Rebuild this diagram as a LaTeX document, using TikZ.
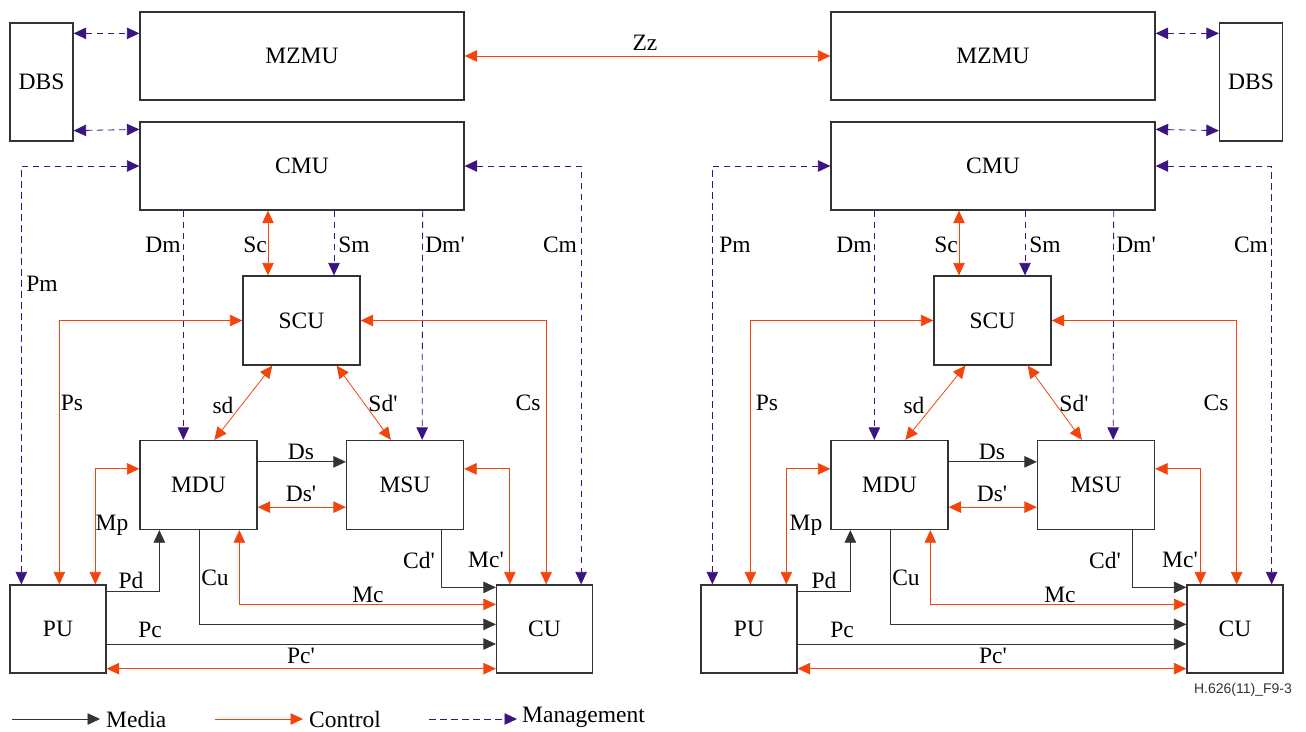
\documentclass[tikz,border=0pt]{standalone}
\usepackage{fontspec}
\setmainfont{Liberation Serif}[Ligatures=TeXOff]
\newfontfamily\figserif{Liberation Serif}[Ligatures=TeXOff]
\newfontfamily\figsans{Liberation Sans}
\usepackage{tikz}
\usetikzlibrary{arrows.meta, calc}
\definecolor{ctrlOrange}{HTML}{F2450D}
\definecolor{mgmtPurple}{HTML}{3B1482}

\begin{document}
\begin{tikzpicture}[x=1pt, y=-1pt, font=\figserif\fontsize{23.5}{26}\selectfont,
  >={Triangle[length=12.5pt,width=11.5pt]},
  unit/.style={draw=black!80, line width=1.3pt, inner sep=0pt, minimum width=117pt, minimum height=89pt},
  wide/.style={unit, minimum width=324pt, minimum height=88pt},
  term/.style={unit, minimum width=96pt, minimum height=88pt},
  dbs/.style={unit, minimum width=63pt, minimum height=118pt},
  media/.style={draw=black!80, line width=0.8pt},
  ctrl/.style={draw=ctrlOrange, line width=0.8pt},
  mgmt/.style={draw=mgmtPurple, line width=0.8pt, dash pattern=on 6.5pt off 4.5pt},
  lbl/.style={inner sep=1pt},
]
  \useasboundingbox (0,0) rectangle (1306,731);

  % left zone
  \node[dbs]  (dbsL)  at (41.5,82)    {DBS};
  \node[wide] (mzmuL) at (302,56)     {MZMU};
  \node[wide] (cmuL)  at (302,166)    {CMU};
  \node[unit] (scuL)  at (301.5,320.5) {SCU};
  \node[unit] (mduL)  at (198.5,485)  {MDU};
  \node[unit] (msuL)  at (405,485)    {MSU};
  \node[term] (puL)   at (58,629)     {PU};
  \node[term] (cuL)   at (544.5,629)  {CU};

  % right zone
  \node[dbs]  (dbsR)  at (1251,82)    {DBS};
  \node[wide] (mzmuR) at (993,56)     {MZMU};
  \node[wide] (cmuR)  at (993,166)    {CMU};
  \node[unit] (scuR)  at (992.5,320.5) {SCU};
  \node[unit] (mduR)  at (889.5,485)  {MDU};
  \node[unit] (msuR)  at (1096,485)   {MSU};
  \node[term] (puR)   at (749,629)    {PU};
  \node[term] (cuR)   at (1235,629)   {CU};

  % between zones
  \draw[ctrl,<->] (mzmuL.east) -- (mzmuR.west);
  \node[lbl] (lZz) at (645,43) {Zz};

  % left zone connectors
  \draw[mgmt,<->] ([yshift=-11pt]dbsL.north east) -- ([yshift=-22pt]mzmuL.north west);
  \draw[mgmt,<->] ([yshift=11pt]dbsL.south east) -- ([yshift=-8pt]cmuL.north west);
  \draw[mgmt,<->] (cmuL.west) -| ([xshift=12pt]puL.north west);
  \draw[mgmt,->] ([xshift=44pt]cmuL.south west) -- ([xshift=44pt]mduL.north west);
  \draw[ctrl,<->] ([xshift=-34pt]cmuL.south) -- ([xshift=-33.5pt]scuL.north);
  \draw[mgmt,->] ([xshift=32pt]cmuL.south) -- ([xshift=32.5pt]scuL.north);
  \draw[mgmt,->] ([xshift=-42pt]cmuL.south east) -- ([xshift=-42pt]msuL.north east);
  \draw[mgmt,<->] (cmuL.east) -| ([xshift=-12pt]cuL.north east);
  \draw[ctrl,<->] (scuL.west) -| ([xshift=50pt]puL.north west);
  \draw[ctrl,<->] (scuL.east) -| ([xshift=-47pt]cuL.north east);
  \draw[ctrl,<->] ([xshift=30pt]scuL.south west) -- ([xshift=75pt]mduL.north west);
  \draw[ctrl,<->] ([xshift=-24pt]scuL.south east) -- ([xshift=45pt]msuL.north west);
  \draw[media,->] ([yshift=-22pt]mduL.north east) -- ([yshift=-22pt]msuL.north west);
  \draw[ctrl,<->] ([yshift=23pt]mduL.south east) -- ([yshift=23pt]msuL.south west);
  \draw[ctrl,<->] ([yshift=-29pt]mduL.north west) -| ([xshift=86pt]puL.north west);
  \draw[ctrl,<->] ([yshift=-29pt]msuL.north east) -| ([xshift=14pt]cuL.north west);
  \draw[media,->] ([yshift=-7pt]puL.north east) -| ([xshift=20pt]mduL.south west);
  \draw[media,->] ([xshift=60pt]mduL.south west) |- ([yshift=-40pt]cuL.north west);
  \draw[ctrl,<->] ([xshift=100pt]mduL.south west) |- ([yshift=-20pt]cuL.north west);
  \draw[media,->] ([xshift=-23pt]msuL.south east) |- ([yshift=-3pt]cuL.north west);
  \draw[media,->] ([yshift=-15pt]puL.east) -- ([yshift=-15pt]cuL.west);
  \draw[ctrl,<->] ([yshift=5pt]puL.south east) -- ([yshift=5pt]cuL.south west);

  \node[lbl] (lPmL)  at (42,284)  {Pm};
  \node[lbl] (lDmL)  at (163,245) {Dm};
  \node[lbl] (lScL)  at (255,245) {Sc};
  \node[lbl] (lSmL)  at (354,245) {Sm};
  \node[lbl] (lDmpL) at (445,245) {Dm'};
  \node[lbl] (lCmL)  at (560,245) {Cm};
  \node[lbl] (lPsL)  at (72,403)  {Ps};
  \node[lbl] (lsdL)  at (223,405) {sd};
  \node[lbl] (lSdpL) at (383,403) {Sd'};
  \node[lbl] (lCsL)  at (528,403) {Cs};
  \node[lbl] (lDsL)  at (301,452) {Ds};
  \node[lbl] (lDspL) at (301,494) {Ds'};
  \node[lbl] (lMpL)  at (112,525) {Mp};
  \node[lbl] (lCdpL) at (419,560) {Cd'};
  \node[lbl] (lMcpL) at (486,560) {Mc'};
  \node[lbl] (lPdL)  at (131,580) {Pd};
  \node[lbl] (lCuL)  at (215,578) {Cu};
  \node[lbl] (lMcL)  at (368,595) {Mc};
  \node[lbl] (lPcL)  at (150,630) {Pc};
  \node[lbl] (lPcpL) at (301,656) {Pc'};

  % right zone connectors
  \draw[mgmt,<->] ([yshift=-22pt]mzmuR.north east) -- ([yshift=-11pt]dbsR.north west);
  \draw[mgmt,<->] ([yshift=-8pt]cmuR.north east) -- ([yshift=11pt]dbsR.south west);
  \draw[mgmt,<->] (cmuR.west) -| ([xshift=12pt]puR.north west);
  \draw[mgmt,->] ([xshift=44pt]cmuR.south west) -- ([xshift=44pt]mduR.north west);
  \draw[ctrl,<->] ([xshift=-34pt]cmuR.south) -- ([xshift=-33.5pt]scuR.north);
  \draw[mgmt,->] ([xshift=32pt]cmuR.south) -- ([xshift=32.5pt]scuR.north);
  \draw[mgmt,->] ([xshift=-42pt]cmuR.south east) -- ([xshift=-42pt]msuR.north east);
  \draw[mgmt,<->] (cmuR.east) -| ([xshift=-12pt]cuR.north east);
  \draw[ctrl,<->] (scuR.west) -| ([xshift=50pt]puR.north west);
  \draw[ctrl,<->] (scuR.east) -| ([xshift=-47pt]cuR.north east);
  \draw[ctrl,<->] ([xshift=32pt]scuR.south west) -- ([xshift=75pt]mduR.north west);
  \draw[ctrl,<->] ([xshift=-24pt]scuR.south east) -- ([xshift=45pt]msuR.north west);
  \draw[media,->] ([yshift=-22pt]mduR.north east) -- ([yshift=-22pt]msuR.north west);
  \draw[ctrl,<->] ([yshift=23pt]mduR.south east) -- ([yshift=23pt]msuR.south west);
  \draw[ctrl,<->] ([yshift=-29pt]mduR.north west) -| ([xshift=86pt]puR.north west);
  \draw[ctrl,<->] ([yshift=-29pt]msuR.north east) -| ([xshift=14pt]cuR.north west);
  \draw[media,->] ([yshift=-7pt]puR.north east) -| ([xshift=20pt]mduR.south west);
  \draw[media,->] ([xshift=60pt]mduR.south west) |- ([yshift=-40pt]cuR.north west);
  \draw[ctrl,<->] ([xshift=100pt]mduR.south west) |- ([yshift=-20pt]cuR.north west);
  \draw[media,->] ([xshift=-23pt]msuR.south east) |- ([yshift=-3pt]cuR.north west);
  \draw[media,->] ([yshift=-15pt]puR.east) -- ([yshift=-15pt]cuR.west);
  \draw[ctrl,<->] ([yshift=5pt]puR.south east) -- ([yshift=5pt]cuR.south west);

  \node[lbl] (lPmR)  at (735,245)  {Pm};
  \node[lbl] (lDmR)  at (854,245)  {Dm};
  \node[lbl] (lScR)  at (946,245)  {Sc};
  \node[lbl] (lSmR)  at (1045,245) {Sm};
  \node[lbl] (lDmpR) at (1136,245) {Dm'};
  \node[lbl] (lCmR)  at (1251,245) {Cm};
  \node[lbl] (lPsR)  at (767,403)  {Ps};
  \node[lbl] (lsdR)  at (914,405)  {sd};
  \node[lbl] (lSdpR) at (1074,403) {Sd'};
  \node[lbl] (lCsR)  at (1216,403) {Cs};
  \node[lbl] (lDsR)  at (992,452)  {Ds};
  \node[lbl] (lDspR) at (992,494)  {Ds'};
  \node[lbl] (lMpR)  at (806,525)  {Mp};
  \node[lbl] (lCdpR) at (1105,560) {Cd'};
  \node[lbl] (lMcpR) at (1180,560) {Mc'};
  \node[lbl] (lPdR)  at (824,580)  {Pd};
  \node[lbl] (lCuR)  at (906,578)  {Cu};
  \node[lbl] (lMcR)  at (1060,595) {Mc};
  \node[lbl] (lPcR)  at (842,630)  {Pc};
  \node[lbl] (lPcpR) at (993,656)  {Pc'};

  % legend
  \coordinate (medA) at (12,719);  \coordinate (medB) at (100,719);
  \coordinate (ctlA) at (215,719); \coordinate (ctlB) at (303,719);
  \coordinate (mgtA) at (429,719); \coordinate (mgtB) at (517,719);
  \draw[media,->] (medA) -- (medB);
  \draw[ctrl,->] (ctlA) -- (ctlB);
  \draw[mgmt,->] (mgtA) -- (mgtB);
  \node[lbl, anchor=west, inner sep=0pt] (medT) at (106,719) {Media};
  \node[lbl, anchor=west, inner sep=0pt] (ctlT) at (309,719) {Control};
  \node[lbl, anchor=west, inner sep=0pt] (mgtT) at (522,717) {Management};

  \node[lbl, font=\figsans\fontsize{14}{16}\selectfont, text=black!80] (figId) at (1243,690) {H.626(11)\_F9-3};
\end{tikzpicture}
\end{document}
